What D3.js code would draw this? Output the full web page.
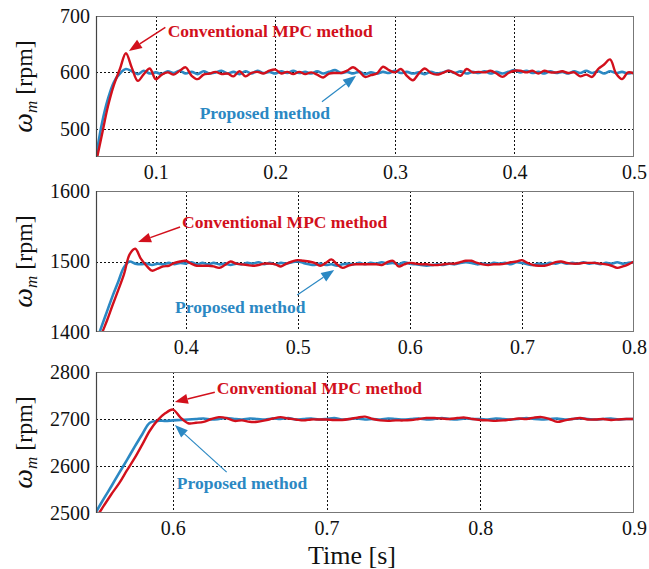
<!DOCTYPE html>
<html><head><meta charset="utf-8">
<script src="https://cdn.jsdelivr.net/npm/d3@7"></script>
<style>html,body{margin:0;padding:0;background:#fff;}svg{display:block;}</style>
</head><body><svg id="c" width="649" height="569"></svg>
<script>
// ---------- DATA ----------
// Panel 1: 0.05 s .. 0.5 s, step 0.005 s
const p1Start = 0.05, p1Step = 0.005;
const p1Conventional = [
 440,490,540,578,606,634,608,585,597,607,
 588,596,600,596,603,609,594,588,596,598,
 601,597,598,593,602,593,599,601,598,603,
 605,598,601,597,601,597,600,596,591,598,
 599,599,603,609,602,592,595,598,610,604,
 600,606,594,586,598,607,599,596,599,603,
 599,594,606,600,601,600,603,598,592,599,
 603,603,600,603,598,603,600,600,602,599,
 600,593,596,592,606,614,623,598,588,600,
 598];
const p1Proposed = [
 450,510,553,583,598,606,602,597,603,598,
 600,597,602,599,603,598,601,597,602,598,
 600,603,598,601,597,602,598,603,599,601,
 598,602,599,603,599,601,598,602,598,601,
 604,599,601,598,601,597,600,598,601,599,
 603,599,601,598,600,597,601,598,600,603,
 599,602,598,601,599,602,598,601,598,601,
 604,600,603,599,601,598,602,599,601,598,
 602,599,603,599,602,598,602,599,601,598,
 600];
const p1XTicks = [0.1,0.2,0.3,0.4,0.5];
const p1YTicks = [500,600,700];

// Panel 2: 0.32 s .. 0.8 s, step 0.005 s
const p2Start = 0.32, p2Step = 0.005;
const p2Conventional = [
 1375,1397,1417,1439,1460,1482,1510,1518,1504,1494,
 1487,1490,1493,1494,1498,1500,1501,1497,1494,1494,
 1494,1493,1491,1495,1500,1497,1496,1495,1494,1495,
 1497,1497,1496,1493,1497,1500,1502,1501,1500,1498,
 1494,1498,1503,1496,1491,1494,1496,1496,1496,1496,
 1496,1495,1499,1501,1493,1496,1498,1497,1496,1496,
 1495,1495,1496,1497,1497,1499,1501,1501,1498,1496,
 1495,1496,1496,1497,1499,1500,1502,1498,1495,1494,
 1494,1496,1499,1500,1498,1497,1497,1498,1498,1498,
 1497,1496,1494,1491,1493,1496,1500];
const p2Proposed = [
 1385,1408,1430,1452,1472,1492,1500,1497,1496,1497,
 1495,1497,1496,1498,1496,1498,1497,1499,1496,1498,
 1496,1498,1496,1497,1495,1497,1496,1498,1497,1499,
 1496,1498,1496,1498,1497,1499,1500,1498,1496,1495,
 1497,1495,1496,1494,1496,1497,1496,1498,1496,1498,
 1497,1499,1497,1498,1496,1499,1497,1496,1495,1494,
 1495,1496,1495,1497,1496,1498,1499,1498,1496,1497,
 1496,1498,1497,1498,1496,1499,1498,1496,1495,1497,
 1496,1498,1497,1499,1497,1498,1497,1499,1497,1498,
 1496,1498,1497,1499,1497,1498,1499];
const p2XTicks = [0.4,0.5,0.6,0.7,0.8];
const p2YTicks = [1400,1500,1600];

// Panel 3: 0.55 s .. 0.9 s, step 0.005 s
const p3Start = 0.55, p3Step = 0.005;
const p3Conventional = [
 2490,2515,2540,2563,2590,2616,2645,2675,2697,2712,
 2720,2703,2691,2692,2694,2700,2704,2702,2696,2697,
 2694,2694,2697,2701,2704,2701,2699,2697,2699,2699,
 2699,2698,2698,2700,2703,2705,2700,2697,2696,2697,
 2697,2698,2700,2702,2702,2701,2700,2702,2703,2700,
 2698,2697,2696,2697,2699,2701,2700,2703,2704,2700,
 2694,2697,2700,2702,2699,2699,2700,2698,2699,2700,
 2700];
const p3Proposed = [
 2502,2530,2557,2585,2612,2640,2667,2692,2696,2696,
 2697,2698,2699,2700,2701,2699,2700,2702,2700,2699,
 2701,2700,2699,2701,2700,2702,2699,2700,2701,2699,
 2700,2702,2699,2700,2701,2699,2700,2699,2701,2700,
 2699,2700,2701,2699,2700,2702,2700,2699,2701,2700,
 2700,2699,2701,2700,2699,2700,2702,2700,2699,2700,
 2701,2699,2700,2701,2700,2699,2700,2701,2699,2700,
 2700];
const p3XTicks = [0.6,0.7,0.8,0.9];
const p3YTicks = [2500,2600,2700,2800];

const labelConventional = "Conventional MPC method";
const labelProposed = "Proposed method";
const xTitle = "Time [s]";

// ---------- LAYOUT ----------
const RED = "#d2101c", BLUE = "#2b88c3";
const FONT = "'Liberation Serif','Times New Roman',serif";
const left = 96, right = 634;
const panels = [
  {start:p1Start, step:p1Step, conv:p1Conventional, prop:p1Proposed, xt:p1XTicks, yt:p1YTicks,
   xd:[0.05,0.5], yd:[450,700], top:16, bottom:157,
   redText:[0.11,663], redArrow:[[0.108,680],[0.0775,638]],
   blueText:[0.1367,517.7], blueArrow:[[0.239,548],[0.2675,594]]},
  {start:p2Start, step:p2Step, conv:p2Conventional, prop:p2Proposed, xt:p2XTicks, yt:p2YTicks,
   xd:[0.32,0.8], yd:[1400,1600], top:191, bottom:332,
   redText:[0.3968,1547.5], redArrow:[[0.395,1549],[0.3575,1527.7]],
   blueText:[0.3905,1427], blueArrow:[[0.4995,1452.5],[0.5325,1488]]},
  {start:p3Start, step:p3Step, conv:p3Conventional, prop:p3Proposed, xt:p3XTicks, yt:p3YTicks,
   xd:[0.55,0.9], yd:[2500,2800], top:372, bottom:513,
   redText:[0.6286,2753], redArrow:[[0.6273,2757],[0.6013,2736]],
   blueText:[0.6026,2551], blueArrow:[[0.635,2587],[0.6013,2687]]}
];

const svg = d3.select("#c");

function arrow(g, x, y, pts, color, w){
  const [x0,y0] = [x(pts[0][0]), y(pts[0][1])];
  const [x1,y1] = [x(pts[1][0]), y(pts[1][1])];
  const ang = Math.atan2(y1-y0, x1-x0);
  const L = 13, Wd = 5;
  const bx = x1 - L*Math.cos(ang), by = y1 - L*Math.sin(ang);
  g.append("line").attr("x1",x0).attr("y1",y0).attr("x2",bx).attr("y2",by)
    .attr("stroke",color).attr("stroke-width",w);
  const px = -Math.sin(ang), py = Math.cos(ang);
  g.append("path").attr("d",`M${x1},${y1}L${bx+px*Wd},${by+py*Wd}L${bx-px*Wd},${by-py*Wd}Z`)
    .attr("fill",color);
}

panels.forEach((p,i)=>{
  const x = d3.scaleLinear().domain(p.xd).range([left,right]);
  const y = d3.scaleLinear().domain(p.yd).range([p.bottom,p.top]);
  const g = svg.append("g");
  const clipId = "clip"+i;
  svg.append("clipPath").attr("id",clipId).append("rect")
    .attr("x",left).attr("y",p.top).attr("width",right-left).attr("height",p.bottom-p.top);

  // grid
  const grid = g.append("g").attr("stroke","#111").attr("stroke-width",1).attr("stroke-dasharray","2,2");
  p.xt.filter(t=>x(t)<right-1).forEach(t=>{
    grid.append("line").attr("x1",Math.round(x(t))+0.5).attr("x2",Math.round(x(t))+0.5)
      .attr("y1",p.top).attr("y2",p.bottom);
  });
  p.yt.filter(v=>y(v)>p.top+1 && y(v)<p.bottom-1).forEach(v=>{
    grid.append("line").attr("y1",Math.round(y(v))+0.5).attr("y2",Math.round(y(v))+0.5)
      .attr("x1",left).attr("x2",right);
  });

  // lines
  const line = d3.line().x((d,k)=>x(p.start+k*p.step)).y(d=>y(d)).curve(d3.curveCatmullRom.alpha(0.5));
  const lg = g.append("g").attr("clip-path",`url(#${clipId})`);
  lg.append("path").attr("d",line(p.prop)).attr("fill","none").attr("stroke",BLUE).attr("stroke-width",2.6);
  lg.append("path").attr("d",line(p.conv)).attr("fill","none").attr("stroke",RED).attr("stroke-width",2.4);

  // frame
  g.append("rect").attr("x",left+0.5).attr("y",p.top+0.5).attr("width",right-left-1).attr("height",p.bottom-p.top-1)
    .attr("fill","none").attr("stroke","#777").attr("stroke-width",1);
  g.append("line").attr("x1",left+0.5).attr("x2",left+0.5).attr("y1",p.top).attr("y2",p.bottom)
    .attr("stroke","#444").attr("stroke-width",1.2);

  // axes labels via d3 axes
  const xa = d3.axisBottom(x).tickValues(p.xt).tickSize(0).tickPadding(8).tickFormat(d3.format(".1f"));
  const gx = g.append("g").attr("transform",`translate(0,${p.bottom})`).call(xa);
  gx.select(".domain").remove();
  gx.selectAll("text").attr("font-family",FONT).attr("font-size",20).attr("fill","#111");
  const ya = d3.axisLeft(y).tickValues(p.yt).tickSize(0).tickPadding(6).tickFormat(d3.format("d"));
  const gy = g.append("g").attr("transform",`translate(${left},0)`).call(ya);
  gy.select(".domain").remove();
  gy.selectAll("text").attr("font-family",FONT).attr("font-size",20).attr("fill","#111");

  // y title
  const cy = (p.top+p.bottom)/2;
  const yt = g.append("text").attr("transform",`translate(32,${cy}) rotate(-90)`)
    .attr("text-anchor","middle").attr("font-family",FONT).attr("font-size",24).attr("fill","#111");
  yt.append("tspan").attr("font-style","italic").attr("font-size",28).text("ω");
  yt.append("tspan").attr("font-style","italic").attr("font-size",17).attr("dy",5).text("m");
  yt.append("tspan").attr("dy",-5).text(" [rpm]");

  // annotations
  g.append("text").attr("x",x(p.redText[0])).attr("y",y(p.redText[1]))
    .attr("font-family",FONT).attr("font-weight","bold").attr("font-size",17.5).attr("fill",RED).text(labelConventional);
  arrow(g,x,y,p.redArrow,RED,1.5);
  g.append("text").attr("x",x(p.blueText[0])).attr("y",y(p.blueText[1]))
    .attr("font-family",FONT).attr("font-weight","bold").attr("font-size",17.5).attr("fill",BLUE).text(labelProposed);
  arrow(g,x,y,p.blueArrow,BLUE,1.2);
});

svg.append("text").attr("x",352).attr("y",564).attr("text-anchor","middle")
  .attr("font-family",FONT).attr("font-size",26).attr("fill","#111").text(xTitle);
</script></body></html>
